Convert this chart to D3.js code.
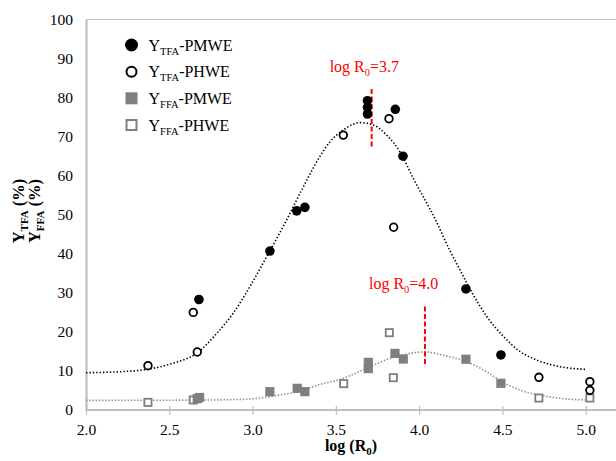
<!DOCTYPE html>
<html><head><meta charset="utf-8">
<script src="https://cdn.jsdelivr.net/npm/d3@7"></script>
<style>
html,body{margin:0;padding:0;background:#fff;}
svg{display:block;}
svg text{font-family:"Times New Roman","Liberation Serif",Tinos,"DejaVu Serif",serif;}
</style></head>
<body>
<svg id="chart" width="616" height="461"></svg>
<script>
// ---- data ----
const xTicks = [2.0, 2.5, 3.0, 3.5, 4.0, 4.5, 5.0];
const yTicks = [0, 10, 20, 30, 40, 50, 60, 70, 80, 90, 100];

const tfaPmweX = [2.678, 3.104, 3.265, 3.314, 3.69, 3.69, 3.69, 3.857, 3.903, 4.281, 4.491];
const tfaPmweY = [28.3, 40.7, 51.0, 51.9, 79.2, 77.5, 75.8, 77.0, 65.0, 31.0, 14.1];

const tfaPhweX = [2.372, 2.644, 2.668, 3.545, 3.819, 3.847, 4.719, 5.025, 5.025];
const tfaPhweY = [11.35, 25.0, 14.85, 70.4, 74.6, 46.8, 8.37, 7.25, 5.04];

const ffaPmweX = [2.668, 2.682, 3.104, 3.268, 3.314, 3.695, 3.695, 3.855, 3.905, 4.281, 4.491];
const ffaPmweY = [2.9, 3.2, 4.7, 5.55, 4.7, 12.2, 10.6, 14.5, 13.06, 13.0, 6.83];

const ffaPhweX = [2.372, 2.644, 3.547, 3.821, 3.845, 4.719, 5.025];
const ffaPhweY = [1.96, 2.56, 6.75, 19.8, 8.28, 3.07, 3.07];

// trend lines
const tfaFitX = [2.0, 2.2, 2.364, 2.524, 2.664, 2.784, 2.884, 2.984, 3.085, 3.2, 3.29, 3.405, 3.465, 3.545, 3.645, 3.725, 3.805, 3.885, 3.965, 4.095, 4.185, 4.245, 4.325, 4.405, 4.505, 4.605, 4.705, 4.845, 5.0];
const tfaFitY = [9.55, 9.8, 10.4, 12.0, 14.5, 19.6, 24.8, 31.6, 39.3, 48.3, 55.9, 65.0, 68.7, 71.7, 73.6, 73.0, 70.4, 66.1, 59.3, 49.0, 40.8, 35.9, 29.5, 24.0, 18.9, 15.0, 12.8, 11.1, 10.4];

const ffaFitX = [2.0, 2.4, 2.7, 2.984, 3.085, 3.184, 3.285, 3.385, 3.545, 3.685, 3.825, 3.945, 4.035, 4.125, 4.281, 4.405, 4.491, 4.605, 4.719, 4.845, 5.0];
const ffaFitY = [2.47, 2.5, 2.55, 2.8, 3.3, 4.0, 4.8, 6.3, 8.1, 10.7, 13.2, 14.5, 14.9, 14.2, 12.4, 9.8, 7.4, 5.1, 3.85, 3.0, 2.56];

// optimum annotations
const annX = [3.715, 4.035];
const annTop = [82.2, 26.5];
const annBottom = [67.4, 11.5];
const annValue = ["3.7", "4.0"];

const legendNames = [["TFA", "PMWE"], ["TFA", "PHWE"], ["FFA", "PMWE"], ["FFA", "PHWE"]];

// ---- drawing ----
const svg = d3.select("#chart");
const x = d3.scaleLinear().domain([2, 5]).range([86, 585.7]);
const y = d3.scaleLinear().domain([0, 100]).range([410, 19.5]);
const plotRight = 616;
const axisGray = "#bfbfbf";
const markGray = "#7f7f7f";

// top border
svg.append("line").attr("x1", x(2)).attr("x2", plotRight)
  .attr("y1", y(100)).attr("y2", y(100))
  .attr("stroke", axisGray).attr("stroke-width", 1.2);

// y axis
const yAxis = svg.append("g").attr("transform", `translate(${x(2)},0)`)
  .call(d3.axisLeft(y).tickValues(yTicks).tickSize(0).tickPadding(13).tickFormat(d3.format("d")));
yAxis.attr("font-family", null);
yAxis.select(".domain").attr("stroke", axisGray).attr("stroke-width", 2.2);
yAxis.selectAll("text").attr("font-size", 15.5).attr("fill", "#000");

// x axis
const xAxis = svg.append("g").attr("transform", `translate(0,${y(0)})`)
  .call(d3.axisBottom(x).tickValues(xTicks).tickSize(5).tickPadding(9).tickFormat(d3.format(".1f")));
xAxis.attr("font-family", null);
xAxis.select(".domain").remove();
xAxis.append("line").attr("x1", x(2)).attr("x2", plotRight).attr("y1", 0).attr("y2", 0)
  .attr("stroke", axisGray).attr("stroke-width", 2.2);
xAxis.selectAll(".tick line").attr("stroke", axisGray).attr("stroke-width", 1.2).attr("y1", -4).attr("y2", 5);
xAxis.selectAll("text").attr("font-size", 15.5).attr("fill", "#000");

// axis titles
const xt = svg.append("text").attr("x", (x(2) + plotRight) / 2).attr("y", 451)
  .attr("text-anchor", "middle").attr("font-size", 16).attr("font-weight", "bold");
xt.append("tspan").text("log (R");
xt.append("tspan").attr("font-size", 11).attr("dy", 4).text("0");
xt.append("tspan").attr("dy", -4).text(")");

function yTitle(xpos, sub) {
  const t = svg.append("text").attr("transform", `translate(${xpos},211) rotate(-90)`)
    .attr("text-anchor", "middle").attr("font-size", 16.5).attr("font-weight", "bold");
  t.append("tspan").text("Y");
  t.append("tspan").attr("font-size", 11).attr("dy", 4).text(sub);
  t.append("tspan").attr("dy", -4).text(" (%)");
}
yTitle(24, "TFA");
yTitle(40, "FFA");

// trend lines
const line = d3.line().x(d => x(d[0])).y(d => y(d[1])).curve(d3.curveMonotoneX);
svg.append("path").attr("d", line(tfaFitX.map((v, i) => [v, tfaFitY[i]])))
  .attr("fill", "none").attr("stroke", "#000").attr("stroke-width", 1.6).attr("stroke-dasharray", "1.4,2");
svg.append("path").attr("d", line(ffaFitX.map((v, i) => [v, ffaFitY[i]])))
  .attr("fill", "none").attr("stroke", "#8c8c8c").attr("stroke-width", 1.6).attr("stroke-dasharray", "1.4,1.8");

// annotations
annX.forEach((ax, i) => {
  svg.append("line").attr("x1", x(ax)).attr("x2", x(ax)).attr("y1", y(annTop[i])).attr("y2", y(annBottom[i]))
    .attr("stroke", "#ff0000").attr("stroke-width", 2).attr("stroke-dasharray", "5,2.5");
});
const annOffset = [-42, -56];
annX.forEach((ax, i) => {
  const t = svg.append("text").attr("x", x(ax) + annOffset[i]).attr("y", y(annTop[i]) - 17.5)
    .attr("font-size", 16).attr("fill", "#ff0000");
  t.append("tspan").text("log R");
  t.append("tspan").attr("font-size", 10.5).attr("dy", 4).text("0");
  t.append("tspan").attr("dy", -4).text("=" + annValue[i]);
});

// markers
const ptsOpenSq = ffaPhweX.map((v, i) => [v, ffaPhweY[i]]);
svg.append("g").selectAll("rect").data(ptsOpenSq).join("rect")
  .attr("x", d => x(d[0]) - 3.6).attr("y", d => y(d[1]) - 3.6).attr("width", 7.2).attr("height", 7.2)
  .attr("fill", "#fff").attr("stroke", markGray).attr("stroke-width", 1.8);
const ptsFillSq = ffaPmweX.map((v, i) => [v, ffaPmweY[i]]);
svg.append("g").selectAll("rect").data(ptsFillSq).join("rect")
  .attr("x", d => x(d[0]) - 4.6).attr("y", d => y(d[1]) - 4.6).attr("width", 9.2).attr("height", 9.2)
  .attr("fill", markGray);
const ptsOpenC = tfaPhweX.map((v, i) => [v, tfaPhweY[i]]);
svg.append("g").selectAll("circle").data(ptsOpenC).join("circle")
  .attr("cx", d => x(d[0])).attr("cy", d => y(d[1])).attr("r", 3.8)
  .attr("fill", "#fff").attr("stroke", "#000").attr("stroke-width", 1.8);
const ptsFillC = tfaPmweX.map((v, i) => [v, tfaPmweY[i]]);
svg.append("g").selectAll("circle").data(ptsFillC).join("circle")
  .attr("cx", d => x(d[0])).attr("cy", d => y(d[1])).attr("r", 4.8).attr("fill", "#000");

// legend
const lg = svg.append("g");
const rowY = [45, 71.7, 98.3, 125];
legendNames.forEach((nm, i) => {
  const cy = rowY[i], cx = 131.5;
  if (i === 0) lg.append("circle").attr("cx", cx).attr("cy", cy).attr("r", 6.5).attr("fill", "#000");
  if (i === 1) lg.append("circle").attr("cx", cx).attr("cy", cy).attr("r", 5).attr("fill", "#fff").attr("stroke", "#000").attr("stroke-width", 2);
  if (i === 2) lg.append("rect").attr("x", cx - 6).attr("y", cy - 6).attr("width", 12).attr("height", 12).attr("fill", markGray);
  if (i === 3) lg.append("rect").attr("x", cx - 5).attr("y", cy - 5).attr("width", 10).attr("height", 10).attr("fill", "#fff").attr("stroke", markGray).attr("stroke-width", 2);
  const t = lg.append("text").attr("x", 148.5).attr("y", cy + 5.5).attr("font-size", 16).attr("fill", "#000");
  t.append("tspan").text("Y");
  t.append("tspan").attr("font-size", 10.5).attr("dy", 4).text(nm[0]);
  t.append("tspan").attr("dy", -4).text("-" + nm[1]);
});
</script>
</body></html>
